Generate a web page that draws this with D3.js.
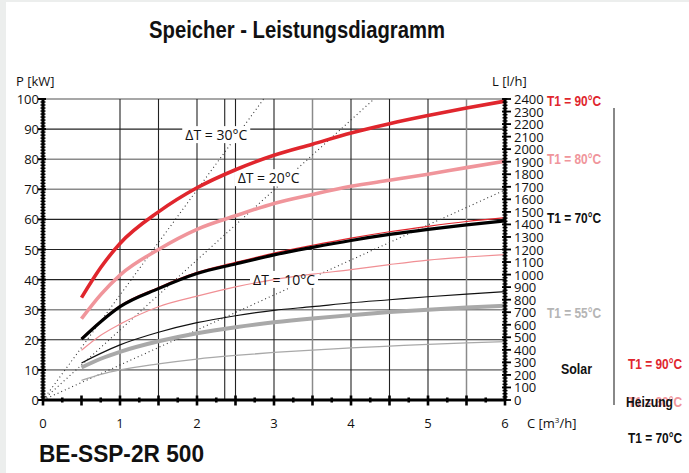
<!DOCTYPE html>
<html>
<head>
<meta charset="utf-8">
<script src="https://d3js.org/d3.v7.min.js"></script>
<style>
body { margin: 0; background: #fff; }
text { font-family: "Open Sans", "Noto Sans", sans-serif; }
.cond { font-family: "Liberation Sans Narrow", "Liberation Sans", Arial, sans-serif; font-weight: bold; }
</style>
</head>
<body>
<script>
// flow rate C [m3/h]
var flow = [0.5, 0.75, 1, 1.5, 2, 2.5, 3, 3.5, 4, 4.5, 5, 5.5, 6];
// power P [kW] per curve
var red90    = [34, 44, 52, 62.5, 70.5, 76.5, 81.3, 85, 88.7, 91.8, 94.5, 97, 99.3];
var pink80   = [27, 35, 41.5, 50, 56.7, 61.2, 65.3, 68.3, 71, 73, 75, 77.2, 79.3];
var black70  = [20.2, 26, 31, 37, 42, 45.2, 48.2, 50.7, 53, 55, 56.7, 58.2, 59.5];
var red90s   = [20.5, 26.3, 31.3, 37.4, 42.4, 45.7, 48.8, 51.4, 53.8, 55.9, 57.7, 59.3, 60.6];
var pink80s  = [16.5, 21.5, 25.2, 31, 34.5, 37.6, 40, 41.8, 43.3, 45, 46.5, 47.5, 48.3];
var black70s = [12.3, 15.5, 18.3, 22.5, 25.7, 28, 29.8, 31, 32.3, 33.3, 34.3, 35.2, 36];
var grey55   = [10.8, 13.7, 16, 19.5, 22.2, 24.2, 25.8, 27.1, 28.2, 29.2, 30, 30.7, 31.3];
var grey55s  = [6.5, 8.5, 10, 12, 13.6, 14.8, 15.8, 16.6, 17.3, 17.9, 18.5, 19, 19.4];

var deltaT = [30, 20, 10];
var pTicks = [0, 10, 20, 30, 40, 50, 60, 70, 80, 90, 100];
var cTicks = [0, 1, 2, 3, 4, 5, 6];
var lTicks = d3.range(0, 2401, 100);
var gridC = [1, 1.5, 2, 2.36, 2.5, 3, 3.5, 4, 4.5, 5, 5.5];

var w = 689, h = 473;
var svg = d3.select("body").append("svg").attr("width", w).attr("height", h);

// grey page edge
svg.append("rect").attr("x", 0).attr("y", 0).attr("width", 6).attr("height", h).attr("fill", "#eceeed");
svg.append("rect").attr("x", 0).attr("y", 0).attr("width", w).attr("height", 2).attr("fill", "#eceeed");

var x = d3.scaleLinear().domain([0, 6]).range([43, 505]);
var y = d3.scaleLinear().domain([0, 100]).range([400, 99]);
var yL = d3.scaleLinear().domain([0, 2400]).range([400, 99]);

// grid
svg.append("g").selectAll("line").data(pTicks.slice(1)).enter().append("line")
  .attr("x1", x(0)).attr("x2", x(6))
  .attr("y1", function(d) { return y(d); }).attr("y2", function(d) { return y(d); })
  .attr("stroke", function(d) { return [100, 80, 70, 30, 10].indexOf(d) >= 0 ? "#8a8a8a" : "#222"; })
  .attr("stroke-width", function(d) { return [100, 80, 70, 30, 10].indexOf(d) >= 0 ? 1.6 : 1.1; });
svg.append("g").selectAll("line").data(gridC).enter().append("line")
  .attr("y1", y(0)).attr("y2", y(100))
  .attr("x1", function(d) { return x(d); }).attr("x2", function(d) { return x(d); })
  .attr("stroke", function(d) { return (d == 3.5 || d == 5.5) ? "#8a8a8a" : "#222"; })
  .attr("stroke-width", function(d) { return (d == 3.5 || d == 5.5) ? 1.5 : 1.1; });

// delta T lines (P = 1.163 * C * dT)
var dtLine = d3.line().x(function(d) { return x(d[0]); }).y(function(d) { return y(d[1]); });
svg.append("g").selectAll("path").data(deltaT).enter().append("path")
  .attr("d", function(dt) {
    var cEnd = Math.min(6, 100 / (1.163 * dt));
    return dtLine([[0, 0], [cEnd, 1.163 * dt * cEnd]]);
  })
  .attr("fill", "none").attr("stroke", "#333").attr("stroke-width", 1.1)
  .attr("stroke-dasharray", "1,3");

// label backgrounds
var dtLabels = [
  { t: "\u0394T = 30\u00b0C", c: 2.25, p: 88 },
  { t: "\u0394T = 20\u00b0C", c: 2.93, p: 73.7 },
  { t: "\u0394T = 10\u00b0C", c: 3.13, p: 39.9 }
];
svg.append("g").selectAll("rect").data(dtLabels).enter().append("rect")
  .attr("x", function(d) { return x(d.c) - 34; }).attr("y", function(d) { return y(d.p) - 9; })
  .attr("width", 68).attr("height", 17).attr("fill", "#fff");

// curves
var curve = d3.line()
  .x(function(d, i) { return x(flow[i]); })
  .y(function(d) { return y(d); })
  .curve(d3.curveMonotoneX);
var series = [
  { v: grey55s, c: "#a9a9a9", w: 1.3 },
  { v: grey55, c: "#a9a9a9", w: 4 },
  { v: black70s, c: "#111", w: 1.2 },
  { v: pink80s, c: "#f08f94", w: 1.2 },
  { v: red90s, c: "#e3262d", w: 1.2 },
  { v: black70, c: "#000", w: 3.2 },
  { v: pink80, c: "#f0959b", w: 3.6 },
  { v: red90, c: "#e0262d", w: 3.6 }
];
svg.append("g").selectAll("path").data(series).enter().append("path")
  .attr("d", function(d) { return curve(d.v); })
  .attr("fill", "none")
  .attr("stroke", function(d) { return d.c; })
  .attr("stroke-width", function(d) { return d.w; });

svg.append("g").selectAll("text").data(dtLabels).enter().append("text")
  .attr("x", function(d) { return x(d.c); }).attr("y", function(d) { return y(d.p) + 5; })
  .attr("text-anchor", "middle").attr("font-size", 14).attr("fill", "#111")
  .text(function(d) { return d.t; });

// left axis
var gL = svg.append("g");
gL.append("line").attr("x1", x(0)).attr("x2", x(0)).attr("y1", y(0) + 1).attr("y2", y(100) - 1)
  .attr("stroke", "#000").attr("stroke-width", 3);
gL.selectAll(".mn").data(d3.range(0, 101, 1)).enter().append("line")
  .attr("x1", x(0) - 2.5).attr("x2", x(0) + 2.5)
  .attr("y1", function(d) { return y(d); }).attr("y2", function(d) { return y(d); })
  .attr("stroke", "#000").attr("stroke-width", 1.4);
gL.selectAll(".mj").data(pTicks).enter().append("line")
  .attr("x1", x(0) - 5).attr("x2", x(0) + 3)
  .attr("y1", function(d) { return y(d); }).attr("y2", function(d) { return y(d); })
  .attr("stroke", "#000").attr("stroke-width", 2);
gL.selectAll("text").data(pTicks).enter().append("text")
  .attr("x", 39).attr("y", function(d) { return y(d) + 5; })
  .attr("text-anchor", "end").attr("font-size", 13).attr("fill", "#111")
  .text(function(d) { return d; });
svg.append("text").attr("x", 16).attr("y", 86).attr("font-size", 13).attr("fill", "#111").text("P [kW]");

// right axis
var gR = svg.append("g");
gR.append("line").attr("x1", x(6)).attr("x2", x(6)).attr("y1", y(0) + 1).attr("y2", y(100) - 1)
  .attr("stroke", "#000").attr("stroke-width", 3);
gR.selectAll(".mn").data(d3.range(0, 2401, 25)).enter().append("line")
  .attr("x1", x(6) - 2.5).attr("x2", x(6) + 2.5)
  .attr("y1", function(d) { return yL(d); }).attr("y2", function(d) { return yL(d); })
  .attr("stroke", "#000").attr("stroke-width", 1.4);
gR.selectAll(".mj").data(lTicks).enter().append("line")
  .attr("x1", x(6) - 3).attr("x2", x(6) + 6)
  .attr("y1", function(d) { return yL(d); }).attr("y2", function(d) { return yL(d); })
  .attr("stroke", "#000").attr("stroke-width", 1.8);
gR.selectAll("text").data(lTicks).enter().append("text")
  .attr("x", 514).attr("y", function(d) { return yL(d) + 5; })
  .attr("font-size", 13).attr("fill", "#111")
  .text(function(d) { return d; });
svg.append("text").attr("x", 492).attr("y", 86).attr("font-size", 13).attr("fill", "#111").text("L [l/h]");

// bottom axis
var gB = svg.append("g");
gB.append("line").attr("x1", x(0) - 1).attr("x2", x(6) + 1).attr("y1", y(0)).attr("y2", y(0))
  .attr("stroke", "#000").attr("stroke-width", 3);
gB.selectAll(".mn").data(d3.range(0, 6.01, 0.25)).enter().append("line")
  .attr("x1", function(d) { return x(d); }).attr("x2", function(d) { return x(d); })
  .attr("y1", function(d) { return d % 0.5 == 0 ? y(0) - 4.5 : y(0) - 2.5; })
  .attr("y2", function(d) { return d % 0.5 == 0 ? y(0) + 5.5 : y(0) + 2.5; })
  .attr("stroke", "#000").attr("stroke-width", 2.6);
gB.selectAll("text").data(cTicks).enter().append("text")
  .attr("x", function(d) { return x(d); }).attr("y", 428)
  .attr("text-anchor", "middle").attr("font-size", 13).attr("fill", "#111")
  .text(function(d) { return d; });
var cLab = svg.append("text").attr("x", 527).attr("y", 428).attr("font-size", 13).attr("fill", "#111");
cLab.append("tspan").text("C [m");
cLab.append("tspan").attr("font-size", 8).attr("dy", -5).text("3");
cLab.append("tspan").attr("dy", 5).text("/h]");

// titles
svg.append("text").attr("class", "cond").attr("x", 149).attr("y", 38)
  .attr("font-size", 24).attr("textLength", 296).attr("lengthAdjust", "spacingAndGlyphs")
  .attr("fill", "#111").text("Speicher - Leistungsdiagramm");
svg.append("text").attr("x", 39).attr("y", 462)
  .attr("font-size", 24).attr("font-weight", "bold")
  .style("font-family", "'Liberation Sans', Arial, sans-serif")
  .attr("textLength", 165).attr("lengthAdjust", "spacingAndGlyphs")
  .attr("fill", "#111").text("BE-SSP-2R 500");

// legend
var legend = [
  { t: "T1 = 90\u00b0C", x: 547, y: 106, c: "#e0262d" },
  { t: "T1 = 80\u00b0C", x: 547, y: 164, c: "#f0959b" },
  { t: "T1 = 70\u00b0C", x: 547, y: 223, c: "#111" },
  { t: "T1 = 55\u00b0C", x: 547, y: 318, c: "#b5b5b5" },
  { t: "T1 = 90\u00b0C", x: 628, y: 369, c: "#e0262d" },
  { t: "T1 = 80\u00b0C", x: 628, y: 407, c: "#f0959b" },
  { t: "T1 = 70\u00b0C", x: 628, y: 443, c: "#111" }
];
svg.append("g").selectAll("text").data(legend).enter().append("text")
  .attr("class", "cond").attr("x", function(d) { return d.x; }).attr("y", function(d) { return d.y; })
  .attr("font-size", 14).attr("textLength", 54).attr("lengthAdjust", "spacingAndGlyphs")
  .attr("fill", function(d) { return d.c; }).text(function(d) { return d.t; });
svg.append("text").attr("class", "cond").attr("x", 561).attr("y", 374).attr("font-size", 14)
  .attr("textLength", 31).attr("lengthAdjust", "spacingAndGlyphs").attr("fill", "#111").text("Solar");
svg.append("text").attr("class", "cond").attr("x", 626).attr("y", 407).attr("font-size", 14)
  .attr("textLength", 47).attr("lengthAdjust", "spacingAndGlyphs").attr("fill", "#111").text("Heizung");
svg.append("line").attr("x1", 614).attr("x2", 614).attr("y1", 108).attr("y2", 405)
  .attr("stroke", "#888").attr("stroke-width", 2);
</script>
</body>
</html>
